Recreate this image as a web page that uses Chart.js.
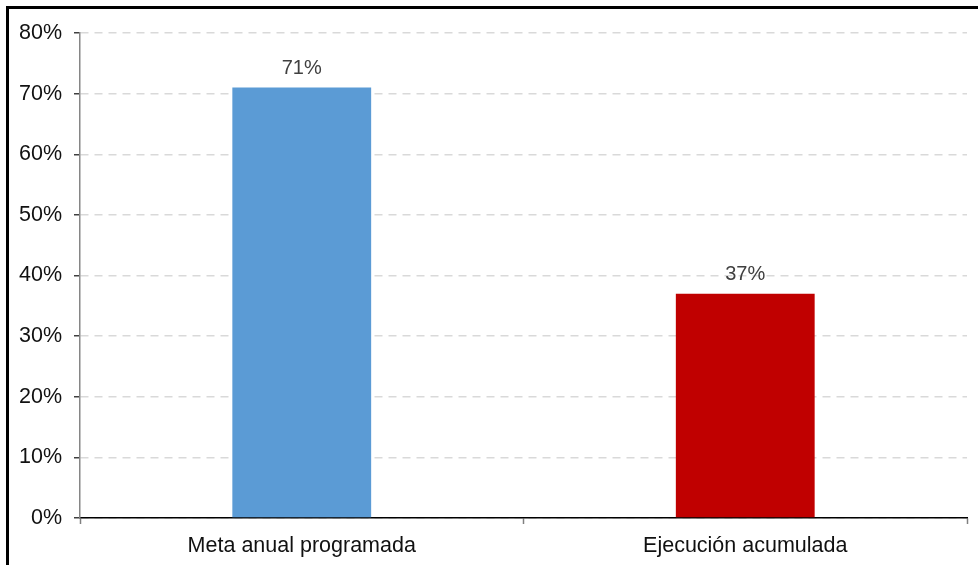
<!DOCTYPE html>
<html>
<head>
<meta charset="utf-8">
<script src="https://cdn.jsdelivr.net/npm/chart.js@4.4.1/dist/chart.umd.min.js"></script>
<style>
  html, body { margin: 0; padding: 0; background: #fff; overflow: hidden; }
  #frame { position: absolute; left: 6px; top: 6px; width: 1100px; height: 700px; border: 3px solid #000; box-sizing: border-box; }
  #wrap { position: absolute; left: 0; top: 0; width: 978px; height: 565px; }
</style>
</head>
<body>
<div id="frame"></div>
<div id="wrap"><canvas id="c" width="978" height="565"></canvas></div>
<script>
const categories = ["Meta anual programada", "Ejecución acumulada"];
const values = [71, 37];
const barColors = ["#5B9BD5", "#C00000"];
const yTicks = [0, 10, 20, 30, 40, 50, 60, 70, 80];

const FONT = "'Liberation Sans', Arial, sans-serif";

const valueLabels = {
  id: 'valueLabels',
  afterDatasetsDraw(chart) {
    const ctx = chart.ctx;
    const meta = chart.getDatasetMeta(0);
    ctx.save();
    ctx.font = "20px " + FONT;
    ctx.fillStyle = "#404040";
    ctx.textAlign = "center";
    ctx.textBaseline = "bottom";
    meta.data.forEach((bar, i) => {
      ctx.fillText(values[i] + "%", bar.x, bar.y - 9);
    });
    ctx.restore();
  }
};

new Chart(document.getElementById('c'), {
  type: 'bar',
  data: {
    labels: categories,
    datasets: [{
      data: values,
      backgroundColor: barColors,
      borderWidth: 0,
      categoryPercentage: 1,
      barPercentage: 0.313
    }]
  },
  options: {
    responsive: false,
    animation: false,
    devicePixelRatio: 1,
    layout: { padding: { left: 0, right: 11, top: 33, bottom: 0 } },
    plugins: { legend: { display: false }, tooltip: { enabled: false } },
    scales: {
      x: {
        offset: true,
        afterFit(s) { s.height = 47; },
        grid: {
          offset: true,
          drawOnChartArea: false,
          drawTicks: true,
          tickLength: 6,
          tickColor: "#808080",
          tickWidth: 1.5
        },
        border: { color: "#000", width: 1.5 },
        ticks: {
          color: "#111",
          font: { family: FONT, size: 21.5 },
          padding: 9,
          maxRotation: 0
        }
      },
      y: {
        min: 0,
        max: 80,
        afterFit(s) { s.width = 80; },
        afterBuildTicks(s) { s.ticks = yTicks.map(v => ({ value: v })); },
        grid: {
          color: "#D9D9D9",
          lineWidth: 1.5,
          tickBorderDash: [],
          tickColor: "#404040",
          tickLength: 6,
          drawTicks: true
        },
        border: { color: "#868686", width: 1.5, dash: [8, 6] },
        ticks: {
          color: "#111",
          font: { family: FONT, size: 21.5 },
          padding: 12,
          callback: v => v + "%"
        }
      }
    }
  },
  plugins: [valueLabels]
});
</script>
</body>
</html>
